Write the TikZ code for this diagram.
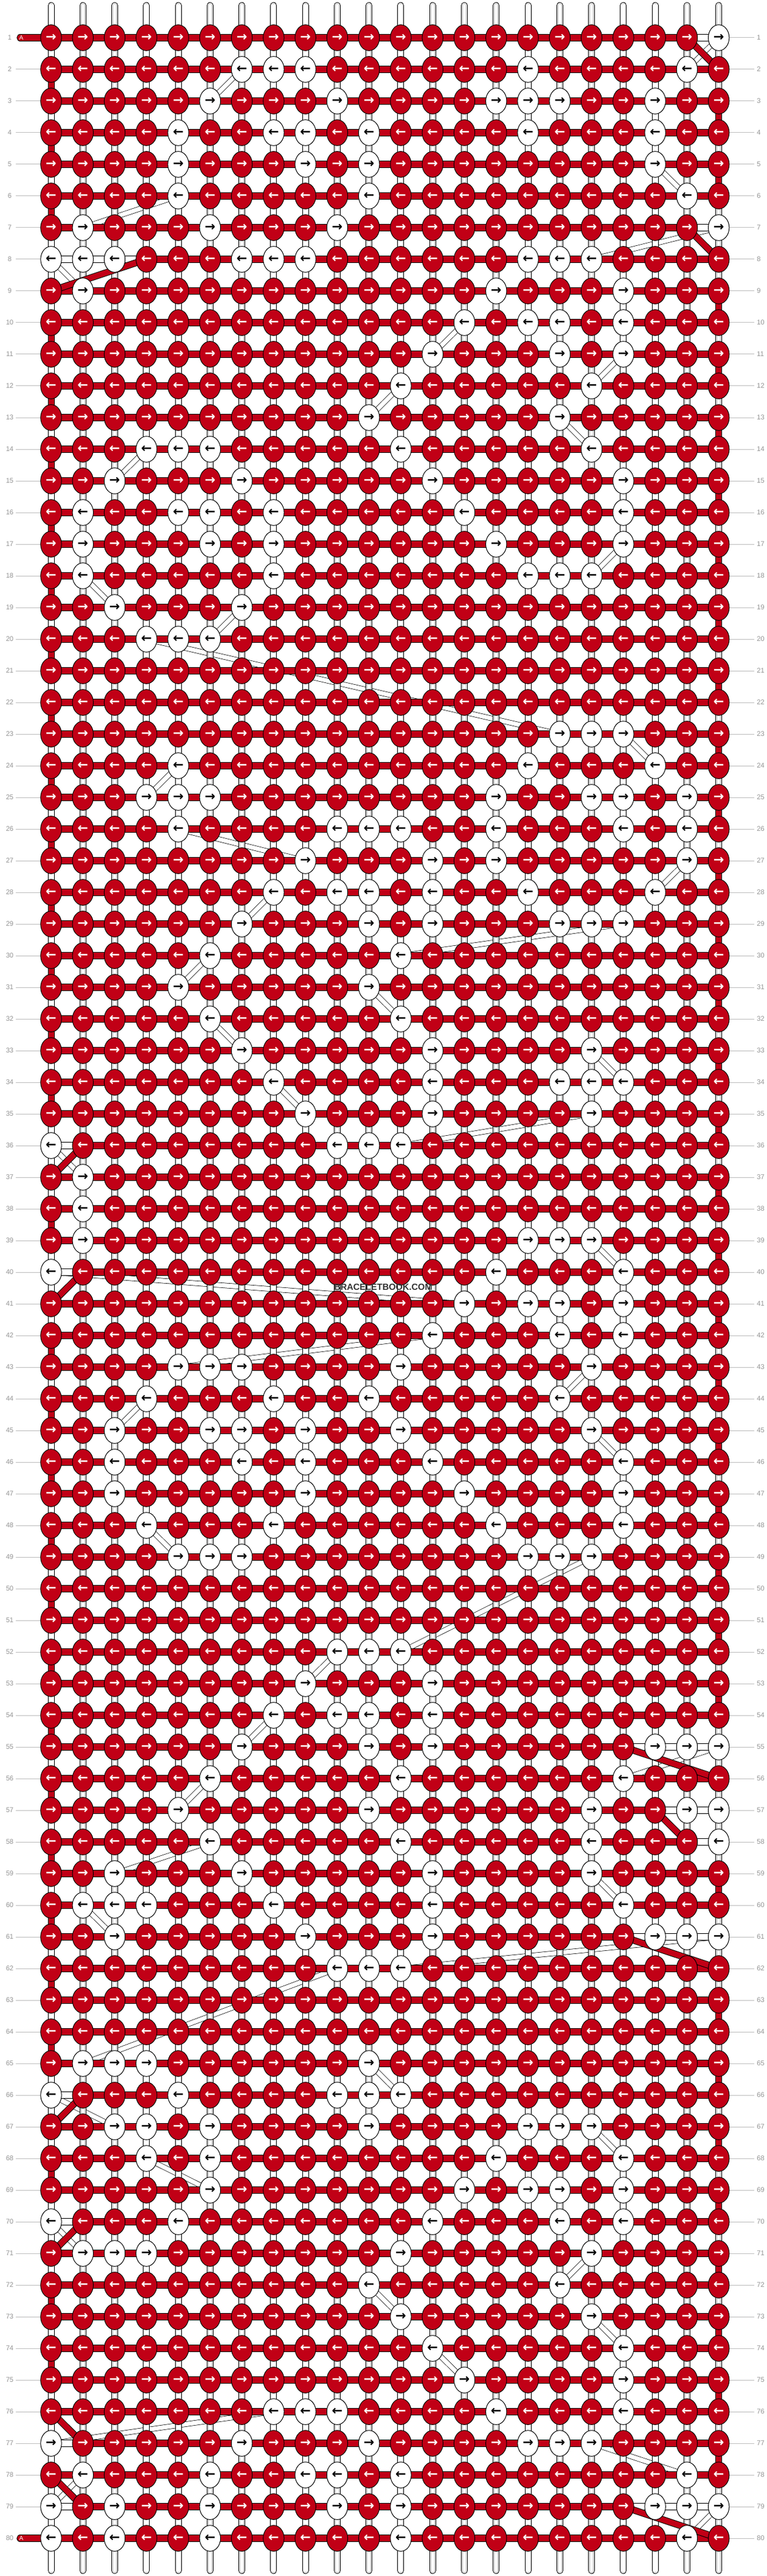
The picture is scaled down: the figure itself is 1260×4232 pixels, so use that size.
\documentclass[tikz,border=0pt]{standalone}
\usepackage{fontspec}
\setmainfont{Liberation Sans}
\newfontfamily\arrfont{DejaVu Sans}
\usetikzlibrary{shapes.geometric}
\definecolor{kred}{RGB}{193,0,22}
\definecolor{lblgray}{RGB}{150,150,150}
\definecolor{linegray}{RGB}{190,190,190}
\pgfdeclarelayer{L0}
\pgfdeclarelayer{L1}
\pgfdeclarelayer{L3}
\pgfsetlayers{L0,L1,main,L3}
\newcommand\setwhite[2]{\foreach \myc in {#2}{\expandafter\xdef\csname WK-#1-\myc\endcsname{1}}}
\begin{document}
\begin{tikzpicture}[x=0.5pt,y=-0.5pt,
 knotbase/.style={ellipse,minimum width=17.2pt,minimum height=21.3pt,inner sep=0pt,outer sep=0pt,draw=black,line width=0.5pt,font=\arrfont\bfseries\fontsize{10.5pt}{11pt}\selectfont},
 kRR/.style={knotbase,fill=kred,text=white,node contents={\char"2192}},
 kRL/.style={knotbase,fill=kred,text=white,node contents={\char"2190}},
 kWR/.style={knotbase,fill=white,text=black,node contents={\char"2192}},
 kWL/.style={knotbase,fill=white,text=black,node contents={\char"2190}},
 wpill/.style={draw=black,line width=5.5pt,postaction={draw=white,line width=4.5pt},postaction={draw=black!30,line width=3.3pt},postaction={draw=white,line width=2.7pt}},
 rpill/.style={draw=black,line width=0.5pt,double=kred,double distance=4.5pt},
 rband/.style={draw=black,line width=0.5pt,double=kred,double distance=4.6pt},
 wband/.style={draw=black,line width=0.5pt,double=white,double distance=4.6pt},
 wstrand/.style={draw=black,line width=0.35pt,double=white,double distance=3.6pt},
 rowlbl/.style={text=lblgray,font=\fontsize{5.6pt}{6pt}\selectfont,inner sep=0pt},
 lblline/.style={draw=linegray,line width=0.5pt},
 atag/.style={text=white,font=\fontsize{5pt}{6pt}\selectfont,inner sep=0pt}]
\useasboundingbox (0,0) rectangle (1260,4232);
\begin{pgfonlayer}{L0}\fill[white] (0,0) rectangle (1260,4232);\end{pgfonlayer}
% white knots
\setwhite{1}{22}
\setwhite{2}{7,8,9,16,21}
\setwhite{3}{6,10,15,16,17,20}
\setwhite{4}{5,8,9,11,16,20}
\setwhite{5}{5,9,11,20}
\setwhite{6}{5,11,21}
\setwhite{7}{2,6,10,22}
\setwhite{8}{1,2,3,7,8,9,16,17,18}
\setwhite{9}{2,15,19}
\setwhite{10}{14,16,17,19}
\setwhite{11}{13,17,19}
\setwhite{12}{12,18}
\setwhite{13}{11,17}
\setwhite{14}{4,5,6,12,18}
\setwhite{15}{3,7,13,19}
\setwhite{16}{2,5,6,8,14,19}
\setwhite{17}{2,6,8,15,19}
\setwhite{18}{2,8,16,17,18}
\setwhite{19}{3,7}
\setwhite{20}{4,5,6}
\setwhite{23}{17,18,19}
\setwhite{24}{5,16,20}
\setwhite{25}{4,5,6,15,18,19,21}
\setwhite{26}{5,10,11,12,15,19,21}
\setwhite{27}{9,13,15,21}
\setwhite{28}{8,10,11,13,16,20}
\setwhite{29}{7,11,13,17,18,19}
\setwhite{30}{6,12}
\setwhite{31}{5,11}
\setwhite{32}{6,12}
\setwhite{33}{7,13,18}
\setwhite{34}{8,13,17,18,19}
\setwhite{35}{9,13,18}
\setwhite{36}{1,10,11,12}
\setwhite{37}{2}
\setwhite{38}{2}
\setwhite{39}{2,16,17,18}
\setwhite{40}{1,15,19}
\setwhite{41}{14,16,17,19}
\setwhite{42}{13,17,19}
\setwhite{43}{5,6,7,12,18}
\setwhite{44}{4,8,11,17}
\setwhite{45}{3,6,7,9,12,18}
\setwhite{46}{3,7,9,13,19}
\setwhite{47}{3,9,14,19}
\setwhite{48}{4,8,15,19}
\setwhite{49}{5,6,7,16,17,18}
\setwhite{52}{10,11,12}
\setwhite{53}{9,13}
\setwhite{54}{8,10,11,13}
\setwhite{55}{7,11,13,20,21,22}
\setwhite{56}{6,12,19}
\setwhite{57}{5,11,18,21,22}
\setwhite{58}{6,12,18,22}
\setwhite{59}{3,7,13,18}
\setwhite{60}{2,3,4,8,13,19}
\setwhite{61}{3,9,13,20,21,22}
\setwhite{62}{10,11,12}
\setwhite{65}{2,3,4,11}
\setwhite{66}{1,5,10,11,12}
\setwhite{67}{3,4,6,11,16,17,18}
\setwhite{68}{4,6,15,19}
\setwhite{69}{6,14,16,17,19}
\setwhite{70}{1,5,13,17,19}
\setwhite{71}{2,3,4,12,18}
\setwhite{72}{11,17}
\setwhite{73}{12,18}
\setwhite{74}{13,19}
\setwhite{75}{14,19}
\setwhite{76}{8,9,10,15,19}
\setwhite{77}{1,7,11,16,17,18}
\setwhite{78}{2,6,9,10,12,21}
\setwhite{79}{1,3,6,10,12,20,21,22}
\setwhite{80}{1,3,6,12,21}
% knots
\foreach \myr in {1,...,80}{
  \pgfmathsetmacro\yy{62+52*(\myr-1)}
  \foreach \myc in {1,...,22}{
    \pgfmathsetmacro\xx{84+52.27*(\myc-1)}
    \ifcsname WK-\myr-\myc\endcsname\def\kc{W}\else\def\kc{R}\fi
    \ifodd\myr\relax\def\kd{R}\else\def\kd{L}\fi
    \edef\tmp{\noexpand\node (k-\myr-\myc) at (\xx,\yy) [k\kc\kd];}\tmp
  }
  \node[rowlbl] (ll-\myr) at (16,\yy) {\myr};
  \node[rowlbl,anchor=west] (lr-\myr) at (1244,\yy) {\myr};
}
% start and end of strand A
\coordinate (s-1) at (33,62);
\coordinate (s-80) at (33,4170);
\node[atag] (a-1) at (35,62) {A};
\node[atag] (a-80) at (35,4170) {A};
% turn bookkeeping
\foreach \myr in {1,7,55,57,61,79,8,36,40,66,70,76,78}{\expandafter\xdef\csname DG-\myr\endcsname{1}}
\foreach \myr in {7,8,36,40,55,57,58,61,66,70,77,79}{\expandafter\xdef\csname BX-\myr\endcsname{1}}
\begin{pgfonlayer}{L0}
  \foreach \myr in {2,...,79}{\draw[lblline] (ll-\myr.center) ++(10,0) -- (k-\myr-1.center);}
  \foreach \myr in {1,...,80}{\draw[lblline] (k-\myr-22.center) -- ([xshift=-2pt]lr-\myr.west);}
  \foreach \ra/\ca/\rb/\cb in {1/22/2/21, 2/7/3/6, 5/20/6/21, 6/5/7/2, 7/22/8/18, 8/1/9/2, 10/14/11/13, 11/19/12/18, 12/12/13/11, 13/17/14/18, 14/4/15/3, 17/19/18/18, 18/2/19/3, 19/7/20/6, 20/4/23/17, 23/19/24/20, 24/5/25/4, 26/5/27/9, 27/21/28/20, 28/8/29/7, 29/19/30/12, 30/6/31/5, 31/11/32/12, 32/6/33/7, 33/18/34/19, 34/8/35/9, 35/18/36/12, 36/1/37/2, 39/18/40/19, 40/1/41/14, 42/13/43/5, 43/18/44/17, 44/4/45/3, 45/18/46/19, 48/4/49/5, 49/18/52/12, 52/10/53/9, 54/8/55/7, 55/22/56/19, 56/6/57/5, 58/6/59/3, 59/18/60/19, 60/2/61/3, 61/22/62/12, 62/10/65/2, 65/11/66/12, 66/1/67/3, 67/18/68/19, 68/4/69/6, 70/1/71/2, 71/18/72/17, 72/11/73/12, 73/18/74/19, 74/13/75/14, 76/8/77/1, 77/18/78/21, 78/2/79/1, 79/22/80/21}{\draw[wstrand] (k-\ra-\ca.center) -- (k-\rb-\cb.center);}
\end{pgfonlayer}
\begin{pgfonlayer}{L1}
  % base strands, one per column, from top end to bottom end
  \foreach \myc in {1,...,22}{
    \pgfmathsetmacro\xx{84+52.27*(\myc-1)}
    \coordinate (t-\myc) at (\xx,9);
    \coordinate (b-\myc) at (\xx,4223);
    \draw[wpill,line cap=round] (t-\myc) -- (b-\myc);
  }
  % straight turns of strand A
  \foreach \myr in {1,...,79}{
    \pgfmathtruncatemacro\nr{\myr+1}
    \ifcsname DG-\myr\endcsname\else
      \ifodd\myr\relax
        \draw[rpill] (k-\myr-22.center) -- (k-\nr-22.center);
      \else
        \draw[rpill] (k-\myr-1.center) -- (k-\nr-1.center);
      \fi
    \fi
  }
  % horizontal bands
  \foreach \myr in {2,...,79}{\ifcsname BX-\myr\endcsname\else\draw[rband] (k-\myr-1.center) -- (k-\myr-22.center);\fi}
  \foreach \myr/\ba/\bb in {7/1/21,8/4/22,36/2/22,40/2/22,55/1/19,57/1/20,58/1/21,61/1/19,66/2/22,70/2/22,77/2/22,79/2/19}{\draw[rband] (k-\myr-\ba.center) -- (k-\myr-\bb.center);}
  \draw[rband,line cap=round] (s-1) -- (k-1-21.center);
  \draw[rband,line cap=round] (s-80) -- (k-80-22.center);
  \foreach \myr/\ba/\bb in {1/21/22,7/21/22,8/1/4,36/1/2,40/1/2,55/19/22,57/20/22,58/21/22,61/19/22,66/1/2,70/1/2,77/1/2,79/1/2,79/19/22}{\draw[wband] (k-\myr-\ba.center) -- (k-\myr-\bb.center);}
  % diagonal turns of strand A
  \foreach \ra/\ca/\rb/\cb in {1/21/2/22, 7/21/8/22, 8/4/9/1, 36/2/37/1, 40/2/41/1, 55/19/56/22, 57/20/58/21, 61/19/62/22, 66/2/67/1, 70/2/71/1, 76/1/77/2, 78/1/79/2, 79/19/80/22}{\draw[rband] (k-\ra-\ca.center) -- (k-\rb-\cb.center);}
\end{pgfonlayer}
\begin{pgfonlayer}{L3}
  \node[font=\bfseries\fontsize{7.3pt}{8pt}\selectfont,text=black!80,inner sep=0pt] (wm) at (630,2114) {BRACELETBOOK.COM};
\end{pgfonlayer}
\end{tikzpicture}
\end{document}
